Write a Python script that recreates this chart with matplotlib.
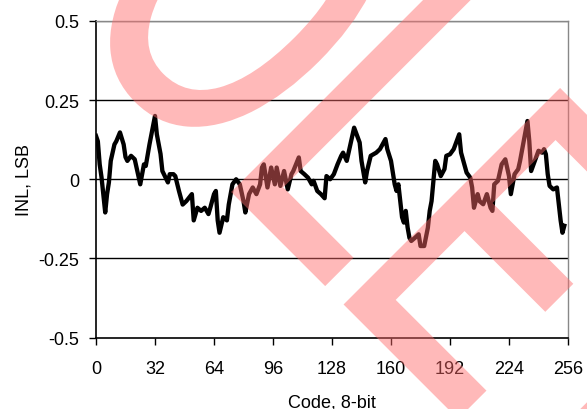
import matplotlib
matplotlib.use("Agg")
import matplotlib.pyplot as plt
from matplotlib.textpath import TextPath
from matplotlib.font_manager import FontProperties
from matplotlib.patches import PathPatch
from matplotlib.transforms import Affine2D

# ---- data ----
codes = [0, 1, 2, 3, 5, 6, 7, 8, 10, 11, 13, 15, 16, 17, 19, 21, 23, 24, 26, 27,
         29, 30, 32, 33, 35, 36, 39, 40, 42, 43, 45, 47, 49, 52, 53, 55, 57, 59, 61, 62,
         64, 65, 66, 67, 69, 71, 72, 74, 76, 78, 80, 81, 83, 85, 87, 89, 90, 91, 93, 95,
         97, 98, 100, 102, 104, 106, 107, 110, 111, 113, 115, 117, 118, 120, 122, 124, 125, 127, 129, 131,
         133, 134, 136, 138, 140, 142, 143, 144, 146, 147, 149, 152, 154, 157, 158, 160, 162, 163, 164, 166,
         167, 168, 169, 170, 171, 173, 175, 176, 178, 180, 181, 182, 183, 184, 185, 187, 189, 190, 192, 194,
         196, 197, 198, 199, 201, 203, 204, 205, 207, 208, 210, 212, 214, 215, 216, 218, 220, 222, 224, 225,
         227, 229, 230, 232, 234, 235, 236, 238, 240, 242, 243, 244, 245, 246, 248, 250, 251, 252, 253, 254]
inl = [0.137, 0.12, 0.047, 0.006, -0.105, -0.047, -0.01, 0.058, 0.11, 0.12, 0.148, 0.11, 0.07, 0.058, 0.074, 0.063, 0.01, -0.016, 0.047, 0.042,
       0.11, 0.14, 0.2, 0.142, 0.08, 0.026, -0.01, 0.016, 0.016, 0.01, -0.037, -0.08, -0.069, -0.047, -0.13, -0.09, -0.1, -0.09, -0.11, -0.09,
       -0.047, -0.037, -0.13, -0.169, -0.12, -0.13, -0.08, -0.016, 0.0, -0.016, -0.069, -0.105, -0.047, -0.026, -0.047, -0.016, 0.037, 0.047, -0.026, 0.037,
       -0.016, 0.037, -0.021, 0.026, -0.032, 0.016, 0.026, 0.069, 0.026, 0.016, 0.005, -0.016, -0.005, -0.037, -0.047, -0.06, 0.01, 0.0, 0.016, 0.047,
       0.074, 0.084, 0.058, 0.11, 0.163, 0.132, 0.116, 0.058, -0.01, 0.026, 0.074, 0.084, 0.095, 0.127, 0.095, 0.058, -0.016, -0.037, -0.016, -0.12,
       -0.137, -0.1, -0.152, -0.185, -0.195, -0.185, -0.174, -0.211, -0.211, -0.153, -0.1, -0.069, -0.005, 0.058, 0.047, 0.01, 0.032, 0.074, 0.079, 0.095,
       0.127, 0.142, 0.084, 0.063, 0.021, 0.005, -0.026, -0.09, -0.047, -0.069, -0.079, -0.047, -0.09, -0.1, -0.016, -0.005, 0.047, 0.063, 0.01, -0.047,
       0.016, 0.032, 0.058, 0.121, 0.184, 0.121, 0.026, 0.058, 0.09, 0.084, 0.095, 0.079, 0.016, -0.021, -0.032, -0.026, -0.079, -0.13, -0.169, -0.147]

x_ticks = [0, 32, 64, 96, 128, 160, 192, 224, 256]
y_ticks = [-0.5, -0.25, 0, 0.25, 0.5]
y_tick_labels = ["-0.5", "-0.25", "0", "0.25", "0.5"]
x_label = "Code, 8-bit"
y_label = "INL, LSB"
watermark = "OBSOLETE"

plt.rcParams["font.family"] = ["Liberation Sans", "DejaVu Sans"]

W, H = 587, 410
fig = plt.figure(figsize=(W / 100, H / 100), dpi=100)
ax = fig.add_axes([96 / W, 1 - 338.5 / H, (568 - 96) / W, (338.5 - 22) / H])

for y in [-0.25, 0, 0.25]:
    ax.axhline(y, color="black", lw=1.0, zorder=1)
ax.axhline(0.5, color="#555555", lw=1.0, zorder=1)

ax.plot(codes, inl, color="black", lw=3.1, zorder=3)

ax.set_xlim(0, 256)
ax.set_ylim(-0.5, 0.5)
ax.set_xticks(x_ticks)
ax.set_xticklabels([str(v) for v in x_ticks])
ax.set_yticks(y_ticks)
ax.set_yticklabels(y_tick_labels)

for s in ["top", "right"]:
    ax.spines[s].set_color("#888888")
    ax.spines[s].set_linewidth(1.0)
for s in ["left", "bottom"]:
    ax.spines[s].set_color("black")
    ax.spines[s].set_linewidth(1.2)

ax.tick_params(axis="both", direction="out", length=5, width=1.0, labelsize=13, colors="black")
ax.tick_params(axis="x", pad=11)
ax.tick_params(axis="y", pad=7)
ax.set_xlabel(x_label, fontsize=13, labelpad=12)
ax.set_ylabel(y_label, fontsize=13, labelpad=4)

# ---- watermark (large rotated text stamp) ----
prop = FontProperties(family="Liberation Sans")
tp = TextPath((0, 0), watermark, size=100, prop=prop)
ext_pre = TextPath((0, 0), watermark[:5], size=100, prop=prop).get_extents()
ext_L = TextPath((0, 0), watermark[4], size=100, prop=prop).get_extents()
xL0 = ext_pre.x1 - ext_L.width
sx, sy = 2.86, 4.35
T = Affine2D().translate(-xL0, 0).scale(sx, sy).rotate_deg(-45).translate(236, H - 193)


def group_alpha(im, dpi):
    im = im.copy()
    im[..., 3] *= 0.47
    return im, 0, 0


patch = PathPatch(tp, transform=T, facecolor="#ff6a6a", edgecolor="#ff6a6a",
                  lw=5.0, joinstyle="miter", zorder=10)
patch.set_agg_filter(group_alpha)
fig.add_artist(patch)

fig.savefig("out.png", dpi=100)
